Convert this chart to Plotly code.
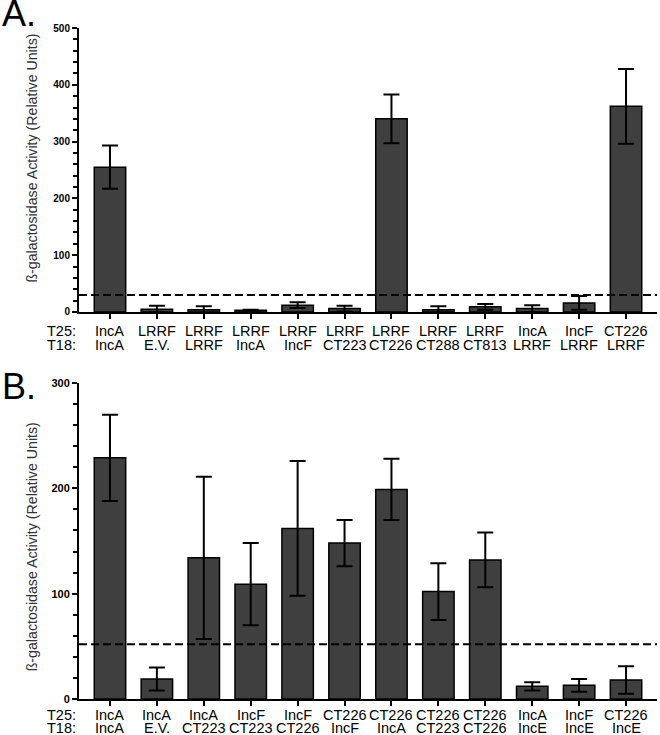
"""Two-hybrid beta-galactosidase activity bar charts (panels A and B)."""

import plotly.graph_objects as go

# Panel A
t25_a = ["IncA", "LRRF", "LRRF", "LRRF", "LRRF", "LRRF",
         "LRRF", "LRRF", "LRRF", "IncA", "IncF", "CT226"]
t18_a = ["IncA", "E.V.", "LRRF", "IncA", "IncF", "CT223",
         "CT226", "CT288", "CT813", "LRRF", "LRRF", "LRRF"]
values_a = [255, 5, 4, 3, 12, 6, 340, 4, 9, 6, 16, 362]
errors_a = [38, 6, 6, 1, 5, 5, 43, 6, 5, 6, 12, 66]
cutoff_a = 30

# Panel B
t25_b = ["IncA", "IncA", "IncA", "IncF", "IncF", "CT226",
         "CT226", "CT226", "CT226", "IncA", "IncF", "CT226"]
t18_b = ["IncA", "E.V.", "CT223", "CT223", "CT226", "IncF",
         "IncA", "CT223", "CT226", "IncE", "IncE", "IncE"]
values_b = [229, 19, 134, 109, 162, 148, 199, 102, 132, 12, 13, 18]
errors_b = [41, 11, 77, 39, 64, 22, 29, 27, 26, 4, 6, 13]
cutoff_b = 52

FONT = "Arial, Liberation Sans, sans-serif"
BAR_COLOR = "#3f3f3f"
Y_TITLE = "ß-galactosidase Activity (Relative Units)"


def _bar_trace(values, errors, xaxis, yaxis):
    """Dark grey bars with black error bars."""
    return go.Bar(
        x=list(range(len(values))),
        y=values,
        width=0.67,
        marker=dict(color=BAR_COLOR, line=dict(color="black", width=1.5)),
        error_y=dict(type="data", array=errors, color="black",
                     thickness=2, width=8),
        xaxis=xaxis,
        yaxis=yaxis,
        showlegend=False,
        hoverinfo="skip",
    )


def _row_labels(labels, xref, yref, shift, size):
    """Category labels placed under the x axis, one annotation per bar."""
    return [
        dict(x=i, y=0, xref=xref, yref=yref + " domain", text=lab,
             showarrow=False, yanchor="middle", yshift=shift, borderpad=0,
             font=dict(family=FONT, size=size, color="black"))
        for i, lab in enumerate(labels)
    ]


fig = go.Figure()
fig.add_trace(_bar_trace(values_a, errors_a, "x", "y"))
fig.add_trace(_bar_trace(values_b, errors_b, "x2", "y2"))

n_bars = len(values_a)
x_common = dict(
    range=[-0.66, n_bars - 1 + 0.66],
    tickvals=list(range(n_bars)),
    showticklabels=False,
    ticks="outside", ticklen=5, tickwidth=2, tickcolor="black",
    showline=True, linecolor="black", linewidth=2,
    showgrid=False, zeroline=False, fixedrange=True,
)
y_common = dict(
    ticks="outside", ticklen=5, tickwidth=2, tickcolor="black",
    showline=True, linecolor="black", linewidth=2,
    showgrid=False, zeroline=False, fixedrange=True,
    minor=dict(dtick=20, ticks="outside", ticklen=4, tickwidth=2,
               tickcolor="black"),
)

dom_a = [0.5768, 1.0]
dom_b = [0.0, 0.4709]

fig.update_layout(
    width=660, height=735,
    margin=dict(l=79, r=3, t=28, b=36),
    paper_bgcolor="white", plot_bgcolor="white",
    font=dict(family=FONT, color="black"),
    xaxis=dict(domain=[0, 1], anchor="y", **x_common),
    yaxis=dict(domain=dom_a, anchor="x", range=[0, 500], dtick=100,
               tickfont=dict(family=FONT, size=10, color="black",
                             weight="bold"),
               **y_common),
    xaxis2=dict(domain=[0, 1], anchor="y2", **x_common),
    yaxis2=dict(domain=dom_b, anchor="x2", range=[0, 300], dtick=100,
                tickfont=dict(family=FONT, size=11, color="black",
                              weight="bold"),
                **y_common),
)

# dashed cutoff lines
for cutoff, xr, yr in [(cutoff_a, "x", "y"), (cutoff_b, "x2", "y2")]:
    fig.add_shape(type="line", xref=xr + " domain", yref=yr,
                  x0=0, x1=1, y0=cutoff, y1=cutoff,
                  line=dict(color="black", width=2, dash="8px,4px"))

annotations = []
annotations += _row_labels(t25_a, "x", "y", -19, 14.5)
annotations += _row_labels(t18_a, "x", "y", -33, 14.5)
annotations += _row_labels(t25_b, "x2", "y2", -16, 14.5)
annotations += _row_labels(t18_b, "x2", "y2", -29, 14.5)

# row headers
for text, yref, shift in [("T25:", "y", -19), ("T18:", "y", -33),
                          ("T25:", "y2", -16), ("T18:", "y2", -29)]:
    annotations.append(dict(
        x=0, y=0, xref="paper", yref=yref + " domain", text=text,
        showarrow=False, xanchor="right", yanchor="middle", borderpad=0,
        xshift=-2, yshift=shift,
        font=dict(family=FONT, size=14.5, color="black")))

# y-axis titles
for yref, yc in [("y", 0.54), ("y2", 0.48)]:
    annotations.append(dict(
        x=0, y=yc, xref="paper", yref=yref + " domain", text=Y_TITLE,
        textangle=-90, showarrow=False, xanchor="center",
        yanchor="middle", xshift=-47,
        font=dict(family=FONT, size=14.2, color="#333333")))

# panel letters
annotations.append(dict(
    x=0, y=1, xref="paper", yref="paper", xanchor="left",
    yanchor="bottom", text="A.", showarrow=False, xshift=-79, yshift=-8,
    font=dict(family=FONT, size=36, color="black")))
annotations.append(dict(
    x=0, y=dom_b[1], xref="paper", yref="paper", xanchor="left",
    yanchor="middle", text="B.", showarrow=False, xshift=-79, yshift=-3,
    font=dict(family=FONT, size=36, color="black")))

fig.update_layout(annotations=annotations)

# the page's default body margin would shift the figure by 8px
fig.write_html("out.html", config={"displayModeBar": False},
               post_script="document.body.style.margin='0';")
